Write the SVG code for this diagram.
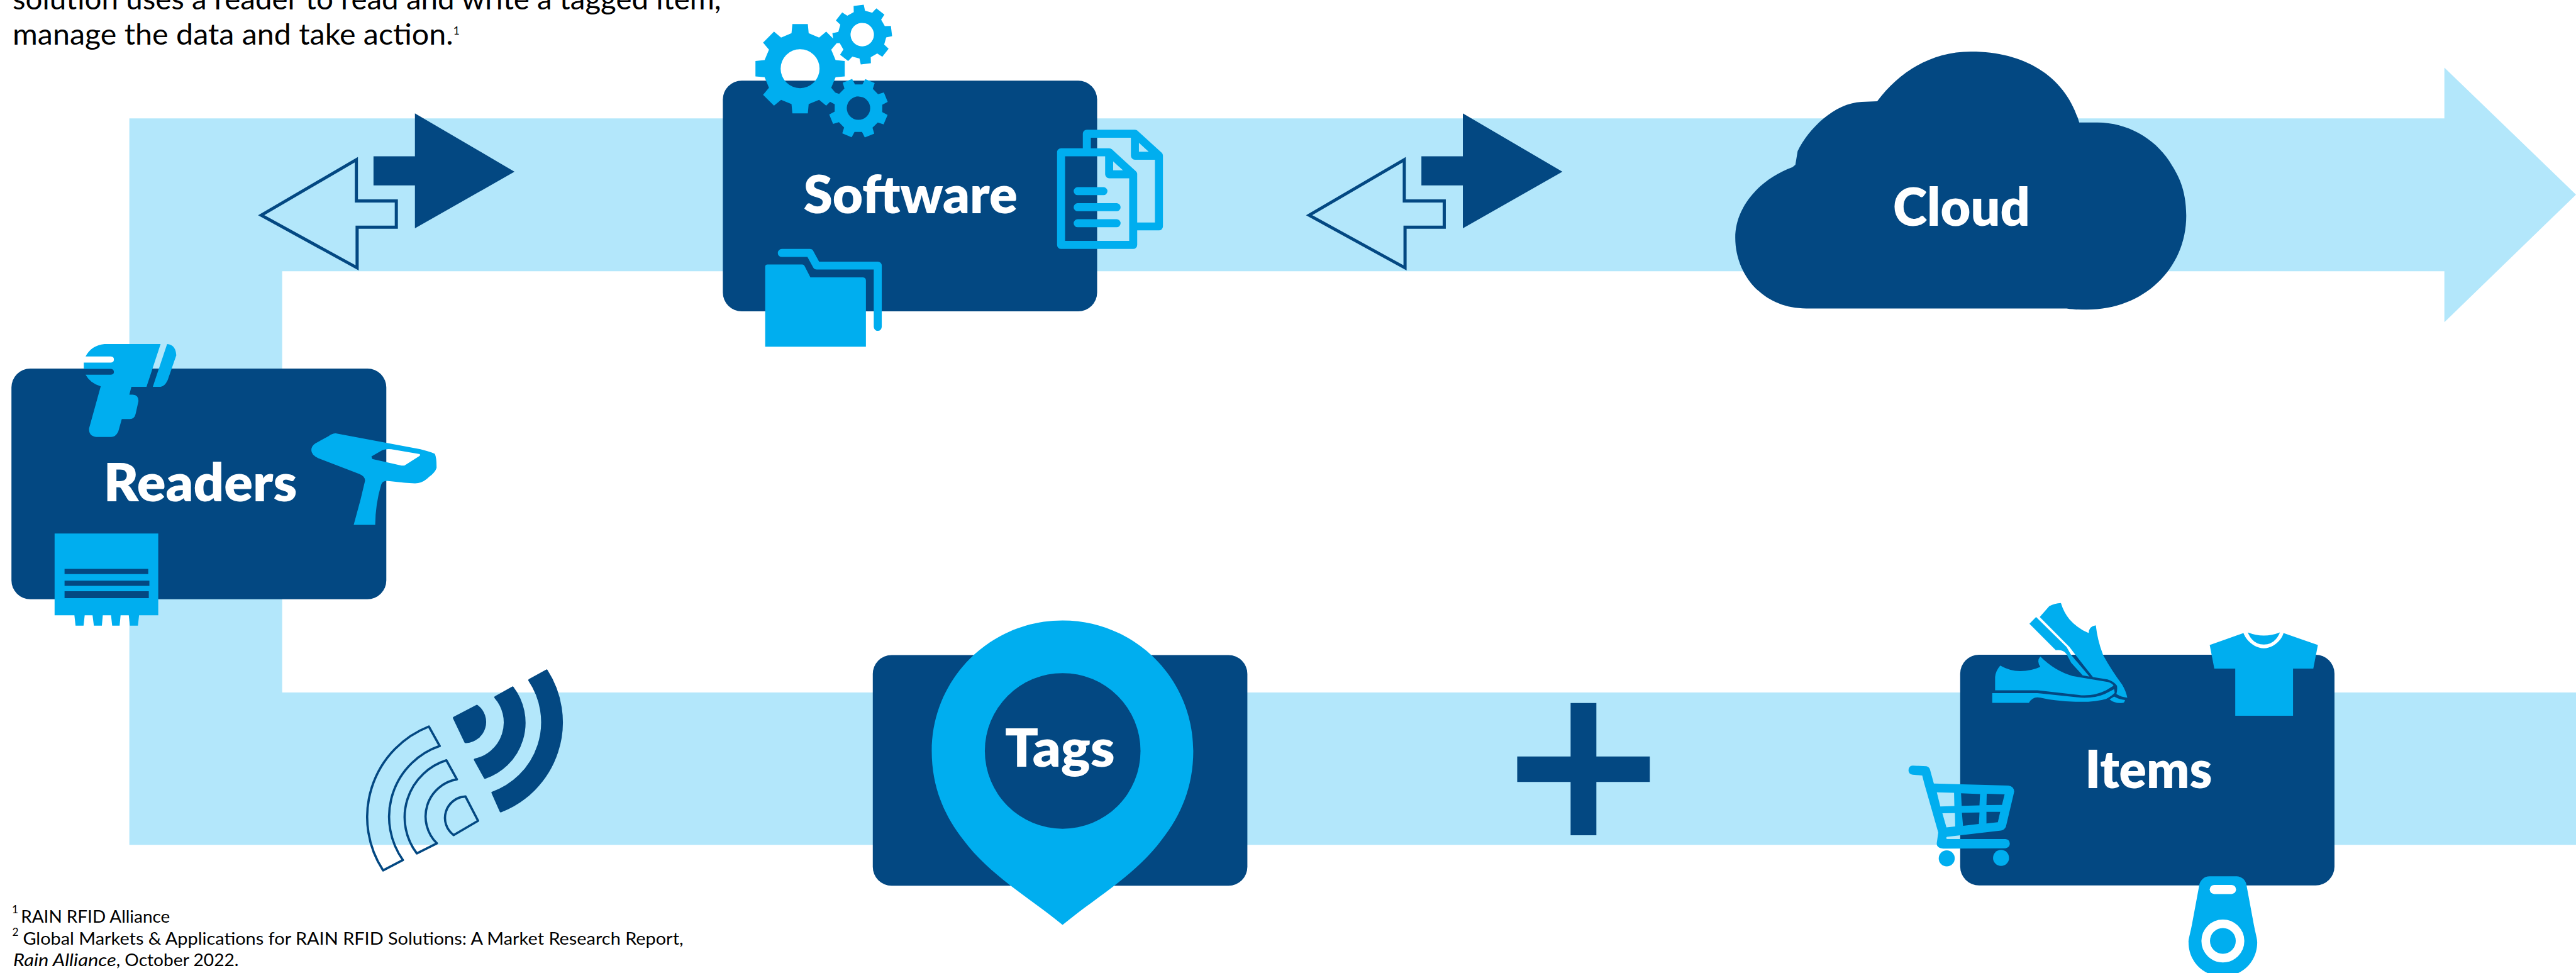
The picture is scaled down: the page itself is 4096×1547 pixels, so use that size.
<svg xmlns="http://www.w3.org/2000/svg" xmlns:xlink="http://www.w3.org/1999/xlink" width="4096" height="1547" viewBox="0 0 4096 1547">
<style>
.dark{fill:#034882}
.cyan{fill:#00AEEF}
.light{fill:#B3E7FB}
.hole{fill-rule:evenodd}
.box{fill:#034882}
.label{font-family:"Lato","Liberation Sans",sans-serif;font-weight:800;fill:#fff;font-size:92px}
.body{font-family:"Lato","Liberation Sans",sans-serif;font-weight:400;fill:#000;font-size:52px}
.sup{font-family:"Lato","Liberation Sans",sans-serif;font-weight:400;fill:#000;font-size:19px}
.note{font-family:"Lato","Liberation Sans",sans-serif;font-weight:400;fill:#000;font-size:30px}
.line{fill:none;stroke:#00AEEF;stroke-width:14;stroke-linejoin:round;stroke-linecap:round}
.wave{fill:none;stroke:#034882;stroke-width:12;stroke-linejoin:round}
.waves{fill:#034882;stroke:#034882;stroke-width:12;stroke-linejoin:round}
</style>
<defs>
<g id="dbl">
<path d="M652.6,273 H725 V198 L899,300 L725,399 V324 H652.6 Z" class="dark"/>
<path d="M622.7,279 L456.5,376 624,468 V397 H692.5 V351 H622.7 Z" fill="none" stroke="#034882" stroke-width="5.5"/>
</g>
<path id="gearL" class="hole" d="M-15,-62L-13.5,-78L13.5,-78L15,-62L33.2,-54.4L45.6,-64.7L64.7,-45.6L54.4,-33.2L62,-15L78,-13.5L78,13.5L62,15L54.4,33.2L64.7,45.6L45.6,64.7L33.2,54.4L15,62L13.5,78L-13.5,78L-15,62L-33.2,54.4L-45.6,64.7L-64.7,45.6L-54.4,33.2L-62,15L-78,13.5L-78,-13.5L-62,-15L-54.4,-33.2L-64.7,-45.6L-45.6,-64.7L-33.2,-54.4ZM-34,0a34,34 0 1,0 68,0a34,34 0 1,0 -68,0Z"/>
<path id="gearS" class="hole" d="M-15,-62L-13.5,-78L13.5,-78L15,-62L33.2,-54.4L45.6,-64.7L64.7,-45.6L54.4,-33.2L62,-15L78,-13.5L78,13.5L62,15L54.4,33.2L64.7,45.6L45.6,64.7L33.2,54.4L15,62L13.5,78L-13.5,78L-15,62L-33.2,54.4L-45.6,64.7L-64.7,45.6L-54.4,33.2L-62,15L-78,13.5L-78,-13.5L-62,-15L-54.4,-33.2L-64.7,-45.6L-45.6,-64.7L-33.2,-54.4ZM-31,0a31,31 0 1,0 62,0a31,31 0 1,0 -62,0Z"/>
</defs>
<g transform="scale(0.91002)">
<g id="connectors">
<path class="light" d="M226,207 H4271 V118 L4501,340 L4271,563 V474 H493 V1210 H4501 V1476 H226 Z"/>
<use xlink:href="#dbl" href="#dbl"/>
<use xlink:href="#dbl" href="#dbl" transform="translate(1831,0)"/>
<path class="dark" d="M2744.3,1228.3 H2789.3 V1321.7 H2882.7 V1366.3 H2789.3 V1459.3 H2744.3 V1366.3 H2651 V1321.7 H2744.3 Z"/>
<g id="signal" transform="translate(600,1130) scale(0.33333)">
<path class="waves" d="M975,175 L1065,125 A500,500 0 0 1 825,862 L782,765 A393,393 0 0 0 975,175 Z"/>
<path class="waves" d="M797,265 L887,214 A304,304 0 0 1 742,686 L690,592 A200,200 0 0 0 797,265 Z"/>
<path class="waves" d="M580,373 L700,310 A105,105 0 0 1 645,499 L640,499 Z"/>
<path class="wave" d="M448,418 L505,520 A392,392 0 0 0 312,1118 L208,1172 A510,510 0 0 1 448,418 Z"/>
<path class="wave" d="M540,595 L595,695 A197,197 0 0 0 490,1030 L385,1083 A313,313 0 0 1 540,595 Z"/>
<path class="wave" d="M640,785 L706,912 L578,987 A112,112 0 0 1 640,785 Z"/>
</g>
</g>

<g id="node-software">
<rect class="box" x="1263" y="141" width="654" height="403" rx="33"/>
<use xlink:href="#gearL" href="#gearL" class="cyan" transform="translate(1398,120)"/>
<use xlink:href="#gearS" href="#gearS" class="cyan" transform="translate(1506.6,60.5) rotate(-7) scale(0.66)"/>
<use xlink:href="#gearS" href="#gearS" class="cyan" transform="translate(1500,189) rotate(23) scale(0.66)"/>
<path class="line" d="M1899,259 V233.6 H1983 V272 H2025 V395.6 H1985 M1983,233.6 L2025,272"/>
<path class="line" d="M1854,266 H1938 V304.4 H1980 V428 H1854 Z M1938,266 L1980,304.4"/>
<path class="line" d="M1883,334 H1928 M1883,362 H1951 M1883,390 H1951"/>
<path class="cyan" d="M1337,466 Q1337,462 1341,462 H1402 Q1405,462 1406,465 L1416,484.5 H1507 Q1513,484.5 1513,490 V605.7 H1337 Z"/>
<path class="line" d="M1366,442 H1415 L1427,464 H1533.7 V571"/>
<text class="label" x="1404" y="373" textLength="374" lengthAdjust="spacingAndGlyphs">Software</text>
</g>

<g id="node-readers">
<rect class="box" x="20" y="644" width="655" height="403" rx="33"/>
<path class="cyan" d="M182.6,601 H280.6 L256,675.7 H229.6 L226,689.5 H232 Q242,690 242,700.5 L237,723 Q235,732 227,732 H212.8 L206.6,754 Q202,763.5 194,763.5 H168 Q155,762 155.6,748.7 L176,675 Q158,670 149.5,654.7 H194 Q199,654 199,650 Q199,645 194,644.4 H146.4 V633.4 H194 Q199,633 199,628 Q199,623 194,622.7 H149.5 Q160,603 182.6,601 Z"/>
<path class="cyan" d="M292,601 Q307,602 308,621 L293,664 Q288,675 280.6,675.7 H267 Z"/>
<path class="cyan hole" d="M586.7,757 L734.7,785 Q760,792 760,793.5 Q763,800 762.8,817.6 Q760,826 750,833 Q738,845 724.5,844.5 L706.6,843.4 L676,840 Q668,840 666,847 Q656,880 655.6,917 H618 L630,872.7 L637.8,840 Q638,832 627.6,828 L556,800.4 Q544,795 544,786.6 Q544,779 551,774.6 L574,762 Q580,757 586.7,757 Z M649,797.6 L668,786.6 Q675,784 683.7,785 L733.7,793.5 V796 L706.6,813.5 H701.5 L650.5,802 Z"/>
<path class="cyan" d="M95.4,932 H276.5 V1075 H243 L241,1093 H227 L225,1075 H210.7 L209,1093 H196 L194,1075 H179.6 L178,1093 H164 L161.7,1075 H148 L146,1093 H132 L130,1075 H95.4 Z"/>
<path class="dark" d="M112.8,994 H259 V1003 H112.8 Z M112.8,1014.6 H261 V1023.5 H112.8 Z M112.8,1033 H260 V1045 H112.8 Z"/>
<text class="label" x="181" y="876" textLength="338" lengthAdjust="spacingAndGlyphs">Readers</text>
</g>

<g id="node-tags">
<rect class="box" x="1525" y="1144.5" width="654.5" height="403" rx="33"/>
<path class="cyan" d="M1628,1312 C1628,1186 1730,1084 1856.6,1084 C1983,1084 2085,1186 2085,1312 C2085,1375 2063,1425 2030,1467 C1983,1530 1918,1565 1856.6,1616 C1795,1565 1730,1530 1683,1467 C1650,1425 1628,1375 1628,1312 Z"/>
<circle class="dark" cx="1856.8" cy="1312" r="136"/>
<text class="label" x="1756" y="1339" textLength="192" lengthAdjust="spacingAndGlyphs">Tags</text>
</g>

<g id="node-cloud">
<path class="dark" d="M3444,90 C3370,90 3315,130 3280,177 L3253,178 C3205,180 3160,225 3141,264 L3137,288 L3132,292 C3070,315 3032,365 3032,415 C3032,480 3080,539 3156,539 L3611,539 C3625,541 3635,541 3647,541 C3745,541 3820,470 3820,377 C3820,330 3805,305 3795,289 C3770,245 3720,214 3665,214 L3633,214 C3610,135 3540,90 3444,90 Z"/>
<text class="label" x="3307.5" y="394" textLength="239.5" lengthAdjust="spacingAndGlyphs">Cloud</text>
</g>

<g id="node-items">
<rect class="box" x="3425" y="1144" width="654" height="403" rx="33"/>
<path class="cyan" d="M3601,1053.5 Q3606,1070 3616,1082 Q3630,1098 3649.5,1106 Q3650,1094 3662,1092.6 Q3665,1120 3675,1145 Q3690,1172 3708,1196 Q3715,1208 3717,1219 Q3707,1218 3698,1212.6 Q3700,1205 3699,1198 Q3693,1190 3682.6,1187 L3657,1183 Q3640,1162 3616,1130.5 L3564,1078 L3580.6,1059 Q3590,1054 3601,1053.5 Z"/>
<path class="cyan" d="M3557.6,1078 L3611,1130.5 L3619,1144.4 L3651,1182 L3639,1180 Q3628,1168 3619,1158 L3611,1143 Q3605,1134 3592,1136 L3546,1089.7 Z"/>
<path class="cyan" d="M3686,1222 L3694,1217 Q3703,1222 3713,1223 Q3712,1228 3709,1228 Q3696,1230 3686,1222 Z"/>
<path class="cyan" d="M3495,1163 Q3512,1172.6 3529.6,1172.6 Q3550,1172 3565,1165 Q3558,1155 3565,1147 Q3590,1172 3621,1181 L3682.6,1191.5 Q3690,1193 3693,1198 L3680,1206 Q3660,1216 3636.7,1214.7 L3560,1206 H3486 V1183 Q3487,1172 3495,1163 Z"/>
<path class="cyan" d="M3481,1211 H3560 L3636.7,1219 Q3660,1220 3677.5,1212.6 L3694,1204 L3695,1210.5 Q3690,1216 3680,1221 Q3660,1227 3626.5,1226 Q3590,1225 3565,1219 Q3552,1216 3545,1228 H3481 Z"/>
<path class="cyan" d="M3861,1127 L3920,1106 C3925,1120 3940,1132.6 3955.6,1132.6 C3971,1132.6 3986,1120 3990,1106 L4050,1127 L4042,1168 H4006.6 V1250.4 H3905.6 V1168 H3869 Z"/>
<path class="cyan" d="M3927.6,1105 Q3955.6,1116 3983.7,1105 Q3975,1126 3955.6,1126 Q3936,1126 3927.6,1105 Z"/>
<path class="cyan hole" d="M3379,1369 L3509,1372.5 Q3519,1374 3519.4,1383 L3505,1444 Q3503,1450 3496.4,1451 L3402,1462 Q3399,1464 3402,1466 L3504,1466 Q3511.7,1467 3511.7,1474 Q3511.7,1481 3504,1482 L3399.5,1482.7 Q3384,1483 3384,1473.5 L3386.7,1454.6 L3362,1368 L3358.7,1354.8 L3342,1353.6 Q3334.7,1352 3334.7,1346 Q3335,1338 3342,1337.6 L3366,1338.8 Q3371,1340 3372.4,1345 Z M3384.2,1384.3 L3414.3,1385.1 L3414.8,1408.3 L3390.3,1409.1 Z M3426.5,1386 L3459.7,1387.2 L3458.7,1407 L3427.6,1407.8 Z M3471.4,1386.8 L3502.6,1388 L3498,1406.2 L3470.9,1406.6 Z M3393.9,1420.9 L3415.8,1420.5 L3416.3,1444 L3401,1445.7 Z M3428,1420 L3458.7,1419.6 L3457.7,1439.4 L3430,1442.8 Z M3470.9,1418.4 L3494.9,1418.4 L3490.8,1436.5 L3470.9,1438.6 Z"/>
<circle class="cyan" cx="3401.5" cy="1499.6" r="14"/>
<circle class="cyan" cx="3496.4" cy="1498.8" r="14"/>
<path class="cyan" d="M3861,1531 H3907 C3917,1531 3924,1538 3925,1545 L3938,1615 C3942,1635 3944,1640 3944,1646 C3944,1680 3918,1706 3884,1706 C3850,1706 3824,1680 3824,1646 C3824,1640 3826,1635 3830,1615 L3843,1545 C3845,1538 3851,1531 3861,1531 Z"/>
<rect x="3861" y="1546" width="46" height="16" rx="8" fill="#fff"/>
<circle cx="3884" cy="1644" r="30" fill="none" stroke="#fff" stroke-width="15"/>
<text class="label" x="3643" y="1377" textLength="222" lengthAdjust="spacingAndGlyphs">Items</text>
</g>

<g id="copy">
<text class="body" x="22" y="16" textLength="1238" lengthAdjust="spacingAndGlyphs">solution uses a reader to read and write a tagged item,</text>
<text class="body" x="22" y="78.5" textLength="770" lengthAdjust="spacingAndGlyphs">manage the data and take action.</text>
<text class="sup" x="792" y="60">1</text>
<text class="sup" x="21" y="1596">1</text>
<text class="note" x="36.5" y="1611.7" textLength="260.5" lengthAdjust="spacingAndGlyphs">RAIN RFID Alliance</text>
<text class="sup" x="21.5" y="1635">2</text>
<text class="note" x="40" y="1650" textLength="1154" lengthAdjust="spacingAndGlyphs">Global Markets &amp; Applications for RAIN RFID Solutions: A Market Research Report,</text>
<text class="note" x="23" y="1688" font-style="italic" textLength="180" lengthAdjust="spacingAndGlyphs">Rain Alliance</text>
<text class="note" x="203" y="1688" textLength="214" lengthAdjust="spacingAndGlyphs">, October 2022.</text>
</g>
</g>
</svg>
